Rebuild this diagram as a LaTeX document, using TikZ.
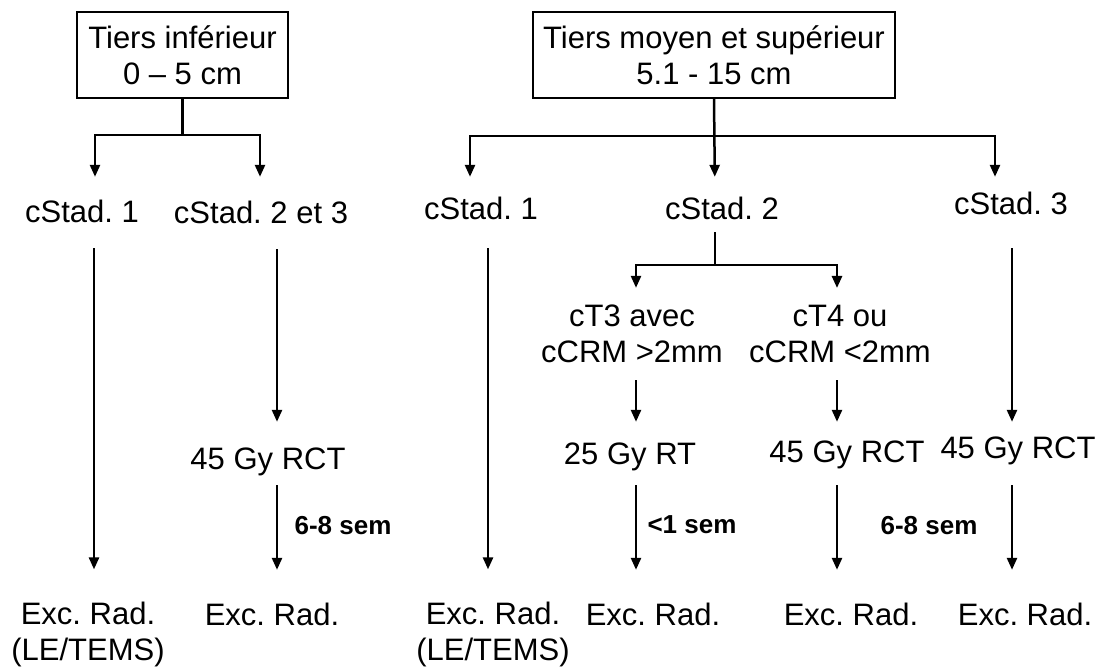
\documentclass[tikz,border=0pt]{standalone}
\usepackage{fontspec}
\setmainfont{Liberation Sans}
\usetikzlibrary{arrows.meta}
\tikzset{
  >={Triangle[length=12pt,width=10pt]},
  tier/.style={draw,line width=1.5pt,minimum width=#1,minimum height=86pt,
    align=center,inner sep=0pt,font=\fontsize{31}{36}\selectfont\frenchspacing},
  lbl/.style={inner sep=0pt,font=\fontsize{31}{36}\selectfont\frenchspacing,
    text height=22pt,text depth=6pt},
  lbl2/.style={inner sep=0pt,align=center,font=\fontsize{31}{36}\selectfont\frenchspacing},
  note/.style={inner sep=0pt,font=\fontsize{26}{30}\selectfont\bfseries},
  flow/.style={->,line width=2.5pt},
}

\begin{document}
\begin{tikzpicture}[x=1pt,y=-1pt]
  \useasboundingbox (0,0) rectangle (1099,666);
  % columns of the arrows
  \foreach \n/\x in {j1/95,j2/260,j3/470,j4/715,j5/995,
                     k1/94,k2/277,k3/488,k4/636,k5/837,k6/1012}
    \coordinate (\n) at (\x,0);

  % the two thirds
  \node[tier=211pt] (b1) at (182.5,55) {Tiers inférieur\\0 -- 5 cm};
  \node[tier=362pt] (b2) at (714,55) {Tiers moyen et supérieur\\5.1 - 15 cm};

  % stages
  \node[lbl] (s1)  at (82,214)  {cStad. 1};
  \node[lbl] (s23) at (261,215) {cStad. 2 et 3};
  \node[lbl] (m1)  at (481,211) {cStad. 1};
  \node[lbl] (m2)  at (722,211) {cStad. 2};
  \node[lbl] (m3)  at (1011,206) {cStad. 3};
  \node[lbl2] (t3) at (632,334) {cT3 avec\\cCRM >2mm};
  \node[lbl2] (t4) at (840,334) {cT4 ou\\cCRM <2mm};

  % neoadjuvant treatment
  \node[lbl] (d2) at (268,461)  {45 Gy RCT};
  \node[lbl] (d4) at (630,456)  {25 Gy RT};
  \node[lbl] (d5) at (847,454)  {45 Gy RCT};
  \node[lbl] (d6) at (1018,450) {45 Gy RCT};

  % surgery
  \node[lbl2] (e1) at (88,634)  {Exc. Rad.\\(LE/TEMS)};
  \node[lbl]  (e2) at (272,617) {Exc. Rad.};
  \node[lbl2] (e3) at (493,634) {Exc. Rad.\\(LE/TEMS)};
  \node[lbl]  (e4) at (653,617) {Exc. Rad.};
  \node[lbl]  (e5) at (851,617) {Exc. Rad.};
  \node[lbl]  (e6) at (1025,617) {Exc. Rad.};

  % intervals
  \node[note] (w2) at (343,526) {6-8 sem};
  \node[note] (w4) at (692,525) {<1 sem};
  \node[note] (w5) at (929,526) {6-8 sem};

  % trees
  \draw[flow,shorten >=23pt] (b1.south) -- ++(0,36) -| (s1.north -| j1);
  \draw[flow,shorten >=24pt] (b1.south) -- ++(0,36) -| (s23.north -| j2);
  \draw[flow,shorten >=20pt] (b2.south) -- ++(0,37) -| (m1.north -| j3);
  \draw[flow,shorten >=20pt] (b2.south) -- (m2.north -| j4);
  \draw[flow,shorten >=15pt] (b2.south) -- ++(0,37) -| (m3.north -| j5);
  \draw[flow,shorten <=7pt,shorten >=17pt] (m2.south -| j4) -- ++(0,40) -| (t3.north -| k4);
  \draw[flow,shorten <=7pt,shorten >=17pt] (m2.south -| j4) -- ++(0,40) -| (t4.north -| k5);

  \foreach \a/\b/\k/\p/\q in {s1/e1/k1/20/32, s23/d2/k2/20/25, d2/e2/k2/10/33,
      m1/e3/k3/23/32, t3/d4/k4/17/20, d4/e4/k4/15/33, t4/d5/k5/17/18,
      d5/e5/k5/17/33, m3/d6/k6/28/14, d6/e6/k6/21/33}
    \draw[flow,shorten <=\p pt,shorten >=\q pt] (\a.south -| \k) -- (\b.north -| \k);
\end{tikzpicture}
\end{document}
